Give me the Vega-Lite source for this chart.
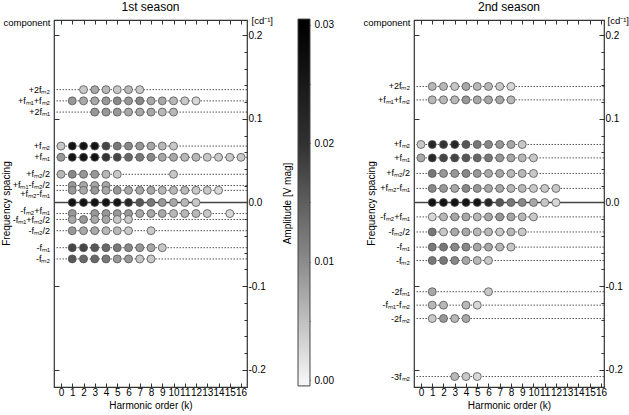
{
  "background": "white",
  "padding": {"left": 0, "top": 0, "right": 0, "bottom": 0},
  "config": {
    "view": {"stroke": "#333", "strokeWidth": 1.2},
    "axis": {"labelFont": "Liberation Sans", "titleFont": "Liberation Sans", "labelFontSize": 10, "titleFontSize": 10, "titleFontWeight": "normal", "labelColor": "#000", "titleColor": "#000", "tickColor": "#333", "tickWidth": 1, "grid": false},
    "title": {"font": "Liberation Sans", "fontSize": 12, "fontWeight": "normal", "color": "#000", "offset": 1},
    "text": {"font": "Liberation Sans", "fontSize": 9, "color": "#000"}
  },
  "datasets": {
    "r1": [
      {"c": "2m2", "f": 0.1348, "lab": "+2fₘ₂"},
      {"c": "m1+m2", "f": 0.1214, "lab": "+fₘ₁+fₘ₂"},
      {"c": "2m1", "f": 0.108, "lab": "+2fₘ₁"},
      {"c": "m2", "f": 0.0674, "lab": "+fₘ₂"},
      {"c": "m1", "f": 0.054, "lab": "+fₘ₁"},
      {"c": "m2/2", "f": 0.0337, "lab": "+fₘ₂/2"},
      {"c": "m1-m2/2", "f": 0.0203, "lab": "+fₘ₁-fₘ₂/2"},
      {"c": "m2-m1", "f": 0.0145, "lab": "+fₘ₂-fₘ₁"},
      {"c": "0", "f": 0, "lab": ""},
      {"c": "-m2+m1", "f": -0.0132, "lab": "-fₘ₂+fₘ₁"},
      {"c": "-m1+m2/2", "f": -0.0203, "lab": "-fₘ₁+fₘ₂/2"},
      {"c": "-m2/2", "f": -0.0337, "lab": "-fₘ₂/2"},
      {"c": "-m1", "f": -0.054, "lab": "-fₘ₁"},
      {"c": "-m2", "f": -0.0674, "lab": "-fₘ₂"}
    ],
    "r2": [
      {"c": "2m2", "f": 0.1386, "lab": "+2fₘ₂"},
      {"c": "m1+m2", "f": 0.1226, "lab": "+fₘ₁+fₘ₂"},
      {"c": "m2", "f": 0.0693, "lab": "+fₘ₂"},
      {"c": "m1", "f": 0.0533, "lab": "+fₘ₁"},
      {"c": "m2/2", "f": 0.0347, "lab": "+fₘ₂/2"},
      {"c": "m2-m1", "f": 0.0168, "lab": "+fₘ₂-fₘ₁"},
      {"c": "0", "f": 0, "lab": ""},
      {"c": "-m2+m1", "f": -0.0172, "lab": "-fₘ₂+fₘ₁"},
      {"c": "-m2/2", "f": -0.0352, "lab": "-fₘ₂/2"},
      {"c": "-m1", "f": -0.0533, "lab": "-fₘ₁"},
      {"c": "-m2", "f": -0.0693, "lab": "-fₘ₂"},
      {"c": "-2m1", "f": -0.1066, "lab": "-2fₘ₁"},
      {"c": "-m1-m2", "f": -0.1226, "lab": "-fₘ₁-fₘ₂"},
      {"c": "-2m2", "f": -0.1386, "lab": "-2fₘ₂"},
      {"c": "-3m2", "f": -0.2079, "lab": "-3fₘ₂"}
    ],
    "p1": [
      {"c": "2m2", "k": 2, "a": 0.0041}, {"c": "2m2", "k": 3, "a": 0.0071}, {"c": "2m2", "k": 4, "a": 0.0056}, {"c": "2m2", "k": 5, "a": 0.0041}, {"c": "2m2", "k": 6, "a": 0.0056}, {"c": "2m2", "k": 7, "a": 0.0041},
      {"c": "m1+m2", "k": 1, "a": 0.0087}, {"c": "m1+m2", "k": 2, "a": 0.0071}, {"c": "m1+m2", "k": 3, "a": 0.0071}, {"c": "m1+m2", "k": 4, "a": 0.0087}, {"c": "m1+m2", "k": 5, "a": 0.0103}, {"c": "m1+m2", "k": 6, "a": 0.0087}, {"c": "m1+m2", "k": 7, "a": 0.0103}, {"c": "m1+m2", "k": 8, "a": 0.0071}, {"c": "m1+m2", "k": 9, "a": 0.0071}, {"c": "m1+m2", "k": 10, "a": 0.0056}, {"c": "m1+m2", "k": 11, "a": 0.0041}, {"c": "m1+m2", "k": 12, "a": 0.0027},
      {"c": "2m1", "k": 3, "a": 0.0087}, {"c": "2m1", "k": 4, "a": 0.0087}, {"c": "2m1", "k": 5, "a": 0.0087}, {"c": "2m1", "k": 6, "a": 0.0071}, {"c": "2m1", "k": 7, "a": 0.0071}, {"c": "2m1", "k": 8, "a": 0.0071}, {"c": "2m1", "k": 9, "a": 0.0056}, {"c": "2m1", "k": 10, "a": 0.0056},
      {"c": "m2", "k": 0, "a": 0.0041}, {"c": "m2", "k": 1, "a": 0.027}, {"c": "m2", "k": 2, "a": 0.027}, {"c": "m2", "k": 3, "a": 0.027}, {"c": "m2", "k": 4, "a": 0.0176}, {"c": "m2", "k": 5, "a": 0.012}, {"c": "m2", "k": 6, "a": 0.0103}, {"c": "m2", "k": 7, "a": 0.0087}, {"c": "m2", "k": 8, "a": 0.0071}, {"c": "m2", "k": 9, "a": 0.0056}, {"c": "m2", "k": 10, "a": 0.0041},
      {"c": "m1", "k": 0, "a": 0.0087}, {"c": "m1", "k": 1, "a": 0.027}, {"c": "m1", "k": 2, "a": 0.027}, {"c": "m1", "k": 3, "a": 0.027}, {"c": "m1", "k": 4, "a": 0.0197}, {"c": "m1", "k": 5, "a": 0.0176}, {"c": "m1", "k": 6, "a": 0.0137}, {"c": "m1", "k": 7, "a": 0.012}, {"c": "m1", "k": 8, "a": 0.0103}, {"c": "m1", "k": 9, "a": 0.0071}, {"c": "m1", "k": 10, "a": 0.0071}, {"c": "m1", "k": 11, "a": 0.0056}, {"c": "m1", "k": 12, "a": 0.0056}, {"c": "m1", "k": 13, "a": 0.0041}, {"c": "m1", "k": 14, "a": 0.0041}, {"c": "m1", "k": 15, "a": 0.0041}, {"c": "m1", "k": 16, "a": 0.0041},
      {"c": "m2/2", "k": 0, "a": 0.0056}, {"c": "m2/2", "k": 1, "a": 0.0103}, {"c": "m2/2", "k": 2, "a": 0.0087}, {"c": "m2/2", "k": 3, "a": 0.0087}, {"c": "m2/2", "k": 4, "a": 0.0056}, {"c": "m2/2", "k": 5, "a": 0.0041}, {"c": "m2/2", "k": 10, "a": 0.0041},
      {"c": "m1-m2/2", "k": 1, "a": 0.0087}, {"c": "m1-m2/2", "k": 2, "a": 0.0071}, {"c": "m1-m2/2", "k": 3, "a": 0.0071}, {"c": "m1-m2/2", "k": 4, "a": 0.0071},
      {"c": "m2-m1", "k": 1, "a": 0.0087}, {"c": "m2-m1", "k": 2, "a": 0.0071}, {"c": "m2-m1", "k": 3, "a": 0.0087}, {"c": "m2-m1", "k": 4, "a": 0.0071}, {"c": "m2-m1", "k": 5, "a": 0.0087}, {"c": "m2-m1", "k": 6, "a": 0.0071}, {"c": "m2-m1", "k": 7, "a": 0.0071}, {"c": "m2-m1", "k": 8, "a": 0.0071}, {"c": "m2-m1", "k": 9, "a": 0.0056}, {"c": "m2-m1", "k": 10, "a": 0.0056}, {"c": "m2-m1", "k": 11, "a": 0.0056}, {"c": "m2-m1", "k": 12, "a": 0.0041}, {"c": "m2-m1", "k": 13, "a": 0.0041}, {"c": "m2-m1", "k": 14, "a": 0.0027},
      {"c": "0", "k": 1, "a": 0.027}, {"c": "0", "k": 2, "a": 0.027}, {"c": "0", "k": 3, "a": 0.027}, {"c": "0", "k": 4, "a": 0.027}, {"c": "0", "k": 5, "a": 0.027}, {"c": "0", "k": 6, "a": 0.0222}, {"c": "0", "k": 7, "a": 0.0156}, {"c": "0", "k": 8, "a": 0.012}, {"c": "0", "k": 9, "a": 0.0087}, {"c": "0", "k": 10, "a": 0.0071}, {"c": "0", "k": 11, "a": 0.0056}, {"c": "0", "k": 12, "a": 0.0041},
      {"c": "-m2+m1", "k": 1, "a": 0.0087}, {"c": "-m2+m1", "k": 3, "a": 0.0087}, {"c": "-m2+m1", "k": 4, "a": 0.0087}, {"c": "-m2+m1", "k": 5, "a": 0.0087}, {"c": "-m2+m1", "k": 6, "a": 0.0087}, {"c": "-m2+m1", "k": 7, "a": 0.0071}, {"c": "-m2+m1", "k": 8, "a": 0.0071}, {"c": "-m2+m1", "k": 9, "a": 0.0071}, {"c": "-m2+m1", "k": 10, "a": 0.0056}, {"c": "-m2+m1", "k": 11, "a": 0.0056}, {"c": "-m2+m1", "k": 12, "a": 0.0056}, {"c": "-m2+m1", "k": 13, "a": 0.0041}, {"c": "-m2+m1", "k": 15, "a": 0.0027},
      {"c": "-m1+m2/2", "k": 1, "a": 0.0071}, {"c": "-m1+m2/2", "k": 2, "a": 0.0087}, {"c": "-m1+m2/2", "k": 3, "a": 0.0071}, {"c": "-m1+m2/2", "k": 4, "a": 0.0071}, {"c": "-m1+m2/2", "k": 5, "a": 0.0041}, {"c": "-m1+m2/2", "k": 6, "a": 0.0041},
      {"c": "-m2/2", "k": 1, "a": 0.0087}, {"c": "-m2/2", "k": 2, "a": 0.0071}, {"c": "-m2/2", "k": 3, "a": 0.0071}, {"c": "-m2/2", "k": 4, "a": 0.0056}, {"c": "-m2/2", "k": 5, "a": 0.0056}, {"c": "-m2/2", "k": 6, "a": 0.0041}, {"c": "-m2/2", "k": 8, "a": 0.0041},
      {"c": "-m1", "k": 1, "a": 0.0176}, {"c": "-m1", "k": 2, "a": 0.0176}, {"c": "-m1", "k": 3, "a": 0.0156}, {"c": "-m1", "k": 4, "a": 0.0137}, {"c": "-m1", "k": 5, "a": 0.012}, {"c": "-m1", "k": 6, "a": 0.0103}, {"c": "-m1", "k": 7, "a": 0.0087}, {"c": "-m1", "k": 8, "a": 0.0071}, {"c": "-m1", "k": 9, "a": 0.0041},
      {"c": "-m2", "k": 1, "a": 0.0156}, {"c": "-m2", "k": 2, "a": 0.0137}, {"c": "-m2", "k": 3, "a": 0.0137}, {"c": "-m2", "k": 4, "a": 0.012}, {"c": "-m2", "k": 5, "a": 0.0087}, {"c": "-m2", "k": 6, "a": 0.0087}, {"c": "-m2", "k": 7, "a": 0.0041}, {"c": "-m2", "k": 8, "a": 0.0041}
    ],
    "p2": [
      {"c": "2m2", "k": 1, "a": 0.0056}, {"c": "2m2", "k": 2, "a": 0.0056}, {"c": "2m2", "k": 3, "a": 0.0041}, {"c": "2m2", "k": 4, "a": 0.0071}, {"c": "2m2", "k": 5, "a": 0.0056}, {"c": "2m2", "k": 6, "a": 0.0056}, {"c": "2m2", "k": 7, "a": 0.0041}, {"c": "2m2", "k": 8, "a": 0.0027},
      {"c": "m1+m2", "k": 1, "a": 0.0056}, {"c": "m1+m2", "k": 2, "a": 0.0056}, {"c": "m1+m2", "k": 3, "a": 0.0056}, {"c": "m1+m2", "k": 4, "a": 0.0087}, {"c": "m1+m2", "k": 5, "a": 0.0071}, {"c": "m1+m2", "k": 6, "a": 0.0071}, {"c": "m1+m2", "k": 7, "a": 0.0071}, {"c": "m1+m2", "k": 8, "a": 0.0056},
      {"c": "m2", "k": 0, "a": 0.0041}, {"c": "m2", "k": 1, "a": 0.0222}, {"c": "m2", "k": 2, "a": 0.0197}, {"c": "m2", "k": 3, "a": 0.0222}, {"c": "m2", "k": 4, "a": 0.0156}, {"c": "m2", "k": 5, "a": 0.012}, {"c": "m2", "k": 6, "a": 0.0103}, {"c": "m2", "k": 7, "a": 0.0087}, {"c": "m2", "k": 8, "a": 0.0071}, {"c": "m2", "k": 9, "a": 0.0041},
      {"c": "m1", "k": 0, "a": 0.0071}, {"c": "m1", "k": 1, "a": 0.0222}, {"c": "m1", "k": 2, "a": 0.0176}, {"c": "m1", "k": 3, "a": 0.0176}, {"c": "m1", "k": 4, "a": 0.0156}, {"c": "m1", "k": 5, "a": 0.0137}, {"c": "m1", "k": 6, "a": 0.012}, {"c": "m1", "k": 7, "a": 0.0087}, {"c": "m1", "k": 8, "a": 0.0071}, {"c": "m1", "k": 9, "a": 0.0056}, {"c": "m1", "k": 10, "a": 0.0041},
      {"c": "m2/2", "k": 1, "a": 0.012}, {"c": "m2/2", "k": 2, "a": 0.0087}, {"c": "m2/2", "k": 3, "a": 0.0087}, {"c": "m2/2", "k": 4, "a": 0.0103}, {"c": "m2/2", "k": 5, "a": 0.0087}, {"c": "m2/2", "k": 6, "a": 0.0071}, {"c": "m2/2", "k": 7, "a": 0.0071}, {"c": "m2/2", "k": 8, "a": 0.0056}, {"c": "m2/2", "k": 9, "a": 0.0056}, {"c": "m2/2", "k": 10, "a": 0.0041},
      {"c": "m2-m1", "k": 1, "a": 0.0103}, {"c": "m2-m1", "k": 2, "a": 0.0087}, {"c": "m2-m1", "k": 3, "a": 0.0071}, {"c": "m2-m1", "k": 4, "a": 0.0103}, {"c": "m2-m1", "k": 5, "a": 0.0087}, {"c": "m2-m1", "k": 6, "a": 0.0071}, {"c": "m2-m1", "k": 7, "a": 0.0071}, {"c": "m2-m1", "k": 8, "a": 0.0056}, {"c": "m2-m1", "k": 9, "a": 0.0056}, {"c": "m2-m1", "k": 10, "a": 0.0041}, {"c": "m2-m1", "k": 11, "a": 0.0041}, {"c": "m2-m1", "k": 12, "a": 0.0041},
      {"c": "0", "k": 1, "a": 0.027}, {"c": "0", "k": 2, "a": 0.027}, {"c": "0", "k": 3, "a": 0.027}, {"c": "0", "k": 4, "a": 0.027}, {"c": "0", "k": 5, "a": 0.027}, {"c": "0", "k": 6, "a": 0.0222}, {"c": "0", "k": 7, "a": 0.0156}, {"c": "0", "k": 8, "a": 0.012}, {"c": "0", "k": 9, "a": 0.0103}, {"c": "0", "k": 10, "a": 0.0071}, {"c": "0", "k": 11, "a": 0.0041}, {"c": "0", "k": 12, "a": 0.0027},
      {"c": "-m2+m1", "k": 1, "a": 0.0027}, {"c": "-m2+m1", "k": 2, "a": 0.0056}, {"c": "-m2+m1", "k": 3, "a": 0.0071}, {"c": "-m2+m1", "k": 4, "a": 0.0071}, {"c": "-m2+m1", "k": 5, "a": 0.0056}, {"c": "-m2+m1", "k": 6, "a": 0.0071}, {"c": "-m2+m1", "k": 7, "a": 0.0087}, {"c": "-m2+m1", "k": 8, "a": 0.0071}, {"c": "-m2+m1", "k": 9, "a": 0.0056}, {"c": "-m2+m1", "k": 10, "a": 0.0041},
      {"c": "-m2/2", "k": 1, "a": 0.012}, {"c": "-m2/2", "k": 2, "a": 0.0041}, {"c": "-m2/2", "k": 3, "a": 0.0071}, {"c": "-m2/2", "k": 4, "a": 0.0071}, {"c": "-m2/2", "k": 5, "a": 0.0056}, {"c": "-m2/2", "k": 6, "a": 0.0056}, {"c": "-m2/2", "k": 7, "a": 0.0041}, {"c": "-m2/2", "k": 8, "a": 0.0056}, {"c": "-m2/2", "k": 9, "a": 0.0041},
      {"c": "-m1", "k": 1, "a": 0.012}, {"c": "-m1", "k": 2, "a": 0.012}, {"c": "-m1", "k": 3, "a": 0.0103}, {"c": "-m1", "k": 4, "a": 0.0103}, {"c": "-m1", "k": 5, "a": 0.0071}, {"c": "-m1", "k": 6, "a": 0.0071}, {"c": "-m1", "k": 7, "a": 0.0056}, {"c": "-m1", "k": 8, "a": 0.0041},
      {"c": "-m2", "k": 1, "a": 0.012}, {"c": "-m2", "k": 2, "a": 0.012}, {"c": "-m2", "k": 3, "a": 0.0103}, {"c": "-m2", "k": 4, "a": 0.0071}, {"c": "-m2", "k": 5, "a": 0.0056}, {"c": "-m2", "k": 6, "a": 0.0041},
      {"c": "-2m1", "k": 1, "a": 0.0071}, {"c": "-2m1", "k": 6, "a": 0.0041},
      {"c": "-m1-m2", "k": 1, "a": 0.0056}, {"c": "-m1-m2", "k": 2, "a": 0.0056}, {"c": "-m1-m2", "k": 4, "a": 0.0056}, {"c": "-m1-m2", "k": 5, "a": 0.0027},
      {"c": "-2m2", "k": 1, "a": 0.0041}, {"c": "-2m2", "k": 2, "a": 0.0087}, {"c": "-2m2", "k": 3, "a": 0.0056}, {"c": "-2m2", "k": 4, "a": 0.0071},
      {"c": "-3m2", "k": 3, "a": 0.0056}, {"c": "-3m2", "k": 4, "a": 0.0041}, {"c": "-3m2", "k": 5, "a": 0.0027}
    ]
  },
  "hconcat": [
    {
      "width": 193,
      "height": 367,
      "title": {"text": "1st season"},
      "layer": [
        {
          "data": {"name": "r1"},
          "mark": {"type": "rule", "color": "#444"},
          "encoding": {
            "y": {"field": "f", "type": "quantitative", "scale": {"domain": [-0.2204, 0.218], "nice": false, "zero": false},
              "axis": {"orient": "left", "values": [-0.2, -0.1, 0, 0.1, 0.2], "labels": false, "tickSize": -5, "domain": false, "title": "Frequency spacing", "titleX": -48, "titleY": 183, "titleAngle": 270, "titleAlign": "center", "titleBaseline": "middle"}},
            "strokeDash": {"condition": {"test": "datum.f == 0", "value": [1, 0]}, "value": [1.5, 1.5]},
            "strokeWidth": {"condition": {"test": "datum.f == 0", "value": 1.3}, "value": 0.9}
          }
        },
        {
          "data": {"name": "p1"},
          "transform": [{"lookup": "c", "from": {"data": {"name": "r1"}, "key": "c", "fields": ["f"]}}],
          "mark": {"type": "circle", "size": 64, "stroke": "#555", "strokeWidth": 0.8, "opacity": 1},
          "encoding": {
            "x": {"field": "k", "type": "quantitative", "scale": {"domain": [-0.622, 16.53], "nice": false, "zero": false},
              "axis": {"orient": "bottom", "values": [0,1,2,3,4,5,6,7,8,9,10,11,12,13,14,15,16], "tickSize": -4, "labelPadding": 4, "format": "d", "domain": false, "title": "Harmonic order (k)", "titlePadding": 3}},
            "y": {"field": "f", "type": "quantitative",
              "axis": {"orient": "right", "values": [-0.2,-0.18,-0.16,-0.14,-0.12,-0.1,-0.08,-0.06,-0.04,-0.02,0,0.02,0.04,0.06,0.08,0.1,0.12,0.14,0.16,0.18,0.2],
                "labelExpr": "abs(datum.value*10 - round(datum.value*10)) < 0.01 ? replace(format(datum.value, '.1f'), '−', '-') : ''",
                "tickSize": {"condition": {"test": "abs(datum.value*10 - round(datum.value*10)) < 0.01", "value": -5}, "value": -3},
                "labelPadding": 6, "domain": false, "title": "[cd⁻¹]", "titleFontSize": 9.5, "titleAngle": 0, "titleX": 4, "titleY": 0, "titleAlign": "left", "titleBaseline": "middle"}},
            "color": {"field": "a", "type": "quantitative", "scale": {"domain": [0, 0.01, 0.02, 0.03], "range": ["#f4f4f4", "#8b8b8b", "#313131", "#000000"], "clamp": true}, "legend": null}
          }
        },
        {
          "data": {"name": "r1"},
          "transform": [{"filter": "datum.lab != '' && indexof(['m1-m2/2','m2-m1','-m2+m1','-m1+m2/2'], datum.c) < 0"}],
          "mark": {"type": "text", "align": "right", "baseline": "middle", "dx": -4},
          "encoding": {
            "x": {"datum": -0.622, "type": "quantitative", "axis": {"orient": "top", "values": [0,1,2,3,4,5,6,7,8,9,10,11,12,13,14,15,16], "tickSize": -4, "labels": false, "domain": false, "title": null}},
            "y": {"field": "f", "type": "quantitative", "axis": {"orient": "left", "labels": false, "ticks": false, "domain": false, "title": "component", "titleFontSize": 9.5, "titleAngle": 0, "titleX": -4, "titleY": 2, "titleAlign": "right", "titleBaseline": "middle"}},
            "text": {"field": "lab"}
          }
        },
        {
          "data": {"name": "r1"},
          "transform": [{"filter": "datum.c == 'm1-m2/2'"}],
          "mark": {"type": "text", "align": "right", "baseline": "middle", "dx": -4, "dy": -0.5},
          "encoding": {
            "x": {"datum": -0.622, "type": "quantitative", "axis": null},
            "y": {"field": "f", "type": "quantitative", "axis": null},
            "text": {"field": "lab"}
          }
        },
        {
          "data": {"name": "r1"},
          "transform": [{"filter": "datum.c == 'm2-m1'"}],
          "mark": {"type": "text", "align": "right", "baseline": "middle", "dx": -4, "dy": 4},
          "encoding": {
            "x": {"datum": -0.622, "type": "quantitative", "axis": null},
            "y": {"field": "f", "type": "quantitative", "axis": null},
            "text": {"field": "lab"}
          }
        },
        {
          "data": {"name": "r1"},
          "transform": [{"filter": "datum.c == '-m2+m1'"}],
          "mark": {"type": "text", "align": "right", "baseline": "middle", "dx": -4, "dy": -3},
          "encoding": {
            "x": {"datum": -0.622, "type": "quantitative", "axis": null},
            "y": {"field": "f", "type": "quantitative", "axis": null},
            "text": {"field": "lab"}
          }
        },
        {
          "data": {"name": "r1"},
          "transform": [{"filter": "datum.c == '-m1+m2/2'"}],
          "mark": {"type": "text", "align": "right", "baseline": "middle", "dx": -4, "dy": 0.5},
          "encoding": {
            "x": {"datum": -0.622, "type": "quantitative", "axis": null},
            "y": {"field": "f", "type": "quantitative", "axis": null},
            "text": {"field": "lab"}
          }
        }
      ],
      "resolve": {"axis": {"x": "independent", "y": "independent"}}
    },
    {
      "width": 65,
      "height": 367,
      "view": {"stroke": null},
      "data": {"values": [{"bar": "Amplitude"}]},
      "layer": [
        {
          "mark": {"type": "rect", "stroke": "#444", "strokeWidth": 1,
            "fill": {"gradient": "linear", "x1": 0, "y1": 1, "x2": 0, "y2": 0,
              "stops": [{"offset": 0, "color": "#f4f4f4"}, {"offset": 0.016, "color": "#f4f4f4"}, {"offset": 0.339, "color": "#8b8b8b"}, {"offset": 0.661, "color": "#313131"}, {"offset": 0.984, "color": "#000000"}, {"offset": 1, "color": "#000000"}]}},
          "encoding": {
            "x": {"datum": 0, "type": "quantitative", "scale": {"domain": [0, 5.4167], "nice": false, "zero": false}, "axis": null},
            "x2": {"datum": 1},
            "y": {"datum": -0.0005, "type": "quantitative", "scale": {"domain": [-0.00059, 0.03042], "nice": false, "zero": false},
              "axis": {"orient": "left", "values": [0, 0.005, 0.01, 0.015, 0.02, 0.025, 0.03], "labels": false, "tickSize": -4, "tickColor": "#222", "domain": false, "title": "Amplitude [V mag]", "titleX": -11, "titleY": 183, "titleAngle": 270, "titleAlign": "center", "titleBaseline": "middle"}},
            "y2": {"datum": 0.0305}
          }
        },
        {
          "mark": {"type": "rect", "fillOpacity": 0, "strokeOpacity": 0},
          "encoding": {
            "x": {"datum": 0, "type": "quantitative", "axis": null},
            "x2": {"datum": 1},
            "y": {"datum": -0.0005, "type": "quantitative",
              "axis": {"orient": "right", "offset": -53, "values": [0, 0.005, 0.01, 0.015, 0.02, 0.025, 0.03],
                "labelExpr": "abs(datum.value*100 - round(datum.value*100)) < 0.01 ? format(datum.value, '.2f') : ''",
                "tickSize": -4, "tickColor": "#222", "labelPadding": 8, "domain": false, "title": null}},
            "y2": {"datum": 0.0305}
          }
        }
      ],
      "resolve": {"axis": {"y": "independent"}}
    },
    {
      "width": 190,
      "height": 367,
      "title": {"text": "2nd season"},
      "layer": [
        {
          "data": {"name": "r2"},
          "mark": {"type": "rule", "color": "#444"},
          "encoding": {
            "y": {"field": "f", "type": "quantitative", "scale": {"domain": [-0.2204, 0.218], "nice": false, "zero": false},
              "axis": {"orient": "left", "values": [-0.2, -0.1, 0, 0.1, 0.2], "labels": false, "tickSize": -5, "domain": false, "title": "Frequency spacing", "titleX": -43, "titleY": 183, "titleAngle": 270, "titleAlign": "center", "titleBaseline": "middle"}},
            "strokeDash": {"condition": {"test": "datum.f == 0", "value": [1, 0]}, "value": [1.5, 1.5]},
            "strokeWidth": {"condition": {"test": "datum.f == 0", "value": 1.3}, "value": 0.9}
          }
        },
        {
          "data": {"name": "p2"},
          "transform": [{"lookup": "c", "from": {"data": {"name": "r2"}, "key": "c", "fields": ["f"]}}],
          "mark": {"type": "circle", "size": 64, "stroke": "#555", "strokeWidth": 0.8, "opacity": 1},
          "encoding": {
            "x": {"field": "k", "type": "quantitative", "scale": {"domain": [-0.622, 16.27], "nice": false, "zero": false},
              "axis": {"orient": "bottom", "values": [0,1,2,3,4,5,6,7,8,9,10,11,12,13,14,15,16], "tickSize": -4, "labelPadding": 4, "format": "d", "domain": false, "title": "Harmonic order (k)", "titlePadding": 3}},
            "y": {"field": "f", "type": "quantitative",
              "axis": {"orient": "right", "values": [-0.2,-0.18,-0.16,-0.14,-0.12,-0.1,-0.08,-0.06,-0.04,-0.02,0,0.02,0.04,0.06,0.08,0.1,0.12,0.14,0.16,0.18,0.2],
                "labelExpr": "abs(datum.value*10 - round(datum.value*10)) < 0.01 ? replace(format(datum.value, '.1f'), '−', '-') : ''",
                "tickSize": {"condition": {"test": "abs(datum.value*10 - round(datum.value*10)) < 0.01", "value": -5}, "value": -3},
                "labelPadding": 6, "domain": false, "title": "[cd⁻¹]", "titleFontSize": 9.5, "titleAngle": 0, "titleX": 3, "titleY": 0, "titleAlign": "left", "titleBaseline": "middle"}},
            "color": {"field": "a", "type": "quantitative", "scale": {"domain": [0, 0.01, 0.02, 0.03], "range": ["#f4f4f4", "#8b8b8b", "#313131", "#000000"], "clamp": true}, "legend": null}
          }
        },
        {
          "data": {"name": "r2"},
          "transform": [{"filter": "datum.lab != ''"}],
          "mark": {"type": "text", "align": "right", "baseline": "middle", "dx": -4},
          "encoding": {
            "x": {"datum": -0.622, "type": "quantitative", "axis": {"orient": "top", "values": [0,1,2,3,4,5,6,7,8,9,10,11,12,13,14,15,16], "tickSize": -4, "labels": false, "domain": false, "title": null}},
            "y": {"field": "f", "type": "quantitative", "axis": {"orient": "left", "labels": false, "ticks": false, "domain": false, "title": "component", "titleFontSize": 9.5, "titleAngle": 0, "titleX": -4, "titleY": 2, "titleAlign": "right", "titleBaseline": "middle"}},
            "text": {"field": "lab"}
          }
        }
      ],
      "resolve": {"axis": {"x": "independent", "y": "independent"}}
    }
  ],
  "spacing": 51,
  "bounds": "flush"
}
